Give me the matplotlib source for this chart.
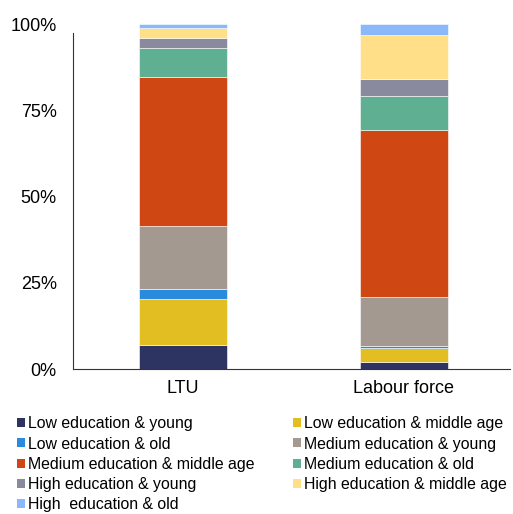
import numpy as np
import matplotlib.pyplot as plt
from matplotlib.patches import Patch
from matplotlib.ticker import FuncFormatter

plt.rcParams['font.family'] = ['Liberation Sans', 'DejaVu Sans']

categories = ['LTU', 'Labour force']
series_names = [
    'Low education & young',
    'Low education & middle age',
    'Low education & old',
    'Medium education & young',
    'Medium education & middle age',
    'Medium education & old',
    'High education & young',
    'High education & middle age',
    'High  education & old',
]
# shares in % (LTU, Labour force)
low_young = [7.0, 1.9]
low_middle = [13.2, 4.1]
low_old = [3.0, 0.8]
med_young = [18.3, 14.2]
med_middle = [43.3, 48.3]
med_old = [8.2, 9.9]
high_young = [2.9, 5.0]
high_middle = [3.1, 12.8]
high_old = [1.0, 3.0]

values = [low_young, low_middle, low_old, med_young, med_middle,
          med_old, high_young, high_middle, high_old]
colors = ['#2E3462', '#E3BE22', '#2A8BDE', '#A39990', '#CF4713',
          '#5FAF92', '#8A8A9E', '#FFDF88', '#8AB8FA']

fig = plt.figure(figsize=(5.13, 5.14), dpi=100)
ax = fig.add_axes([0.142, 0.282, 0.852, 0.671])

x = np.arange(len(categories))
bottom = np.zeros(len(categories))
for vals, col in zip(values, colors):
    ax.bar(x, vals, width=0.4, bottom=bottom, color=col,
           edgecolor='white', linewidth=0.4)
    bottom += np.array(vals)

ax.set_xlim(-0.5, 1.48)
ax.set_ylim(0, 100)
ax.set_yticks([0, 25, 50, 75, 100])
ax.yaxis.set_major_formatter(FuncFormatter(lambda v, p: f'{v:.0f}%'))
ax.set_xticks(x)
ax.set_xticklabels(categories)
ax.tick_params(axis='both', length=0, labelsize=13, colors='black')
ax.tick_params(axis='y', pad=11.5)
ax.tick_params(axis='x', pad=8)
for s in ['top', 'right']:
    ax.spines[s].set_visible(False)
ax.spines['left'].set_color('#333333')
ax.spines['bottom'].set_color('#333333')
ax.spines['left'].set_bounds(0, 97.5)

handles = [Patch(facecolor=c, edgecolor='none') for c in colors]
order = [0, 2, 4, 6, 8, 1, 3, 5, 7]
fig.legend([handles[i] for i in order], [series_names[i] for i in order],
           ncol=2, loc='upper left', bbox_to_anchor=(0.0337, 0.19),
           frameon=False, fontsize=11.45, handlelength=0.5, handleheight=0.5,
           handletextpad=0.18, columnspacing=2.4, labelspacing=0.33,
           borderaxespad=0, borderpad=0)

fig.savefig('out.png', dpi=100)
